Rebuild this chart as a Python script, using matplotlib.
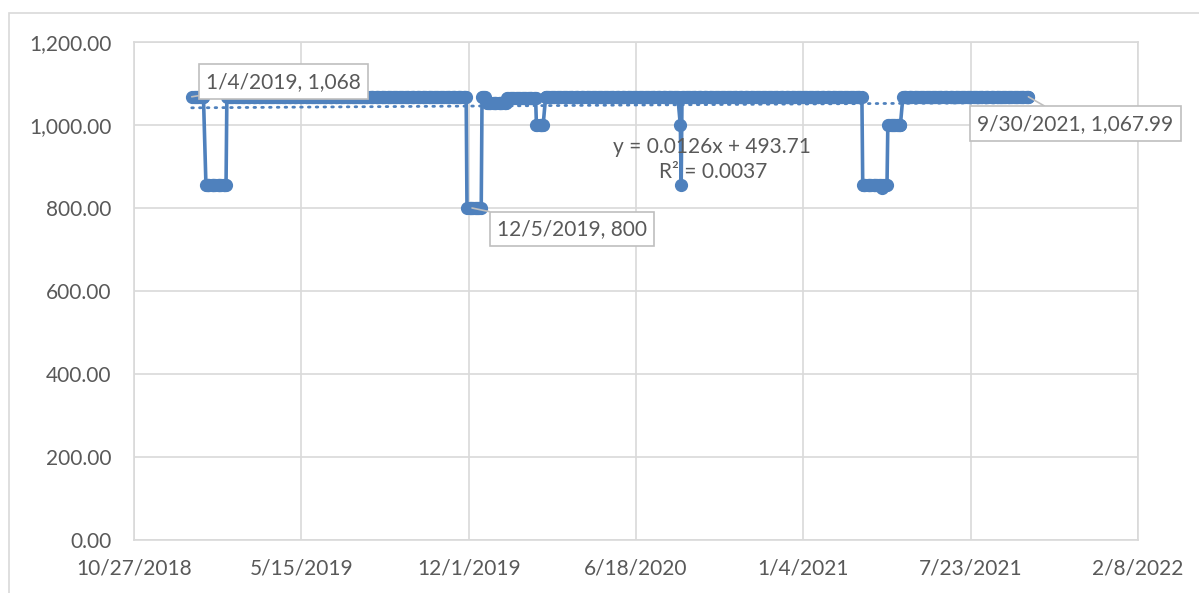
import matplotlib
matplotlib.use("Agg")
import matplotlib.pyplot as plt
import matplotlib.dates as mdates
import matplotlib.patches as mpatches
import numpy as np
import pandas as pd

# step levels (value holds from each start date to the next)
segment_start = ["2019-01-04", "2019-01-21", "2019-02-15", "2019-11-29", "2019-12-17",
                 "2019-12-23", "2020-01-16", "2020-02-20", "2020-03-02", "2020-08-10",
                 "2020-08-11", "2020-08-12", "2021-03-16", "2021-04-08", "2021-04-09",
                 "2021-04-15", "2021-05-03"]
segment_value = [1068, 855, 1068, 800, 1068,
                 1052, 1065, 1000, 1068, 1000,
                 855, 1068, 855, 848, 855,
                 1000, 1068]
last_date = "2021-09-30"
last_value = 1067.99

trend_slope = 0.0126
trend_intercept = 493.71
trend_r2 = 0.0037

x_ticks = ["2018-10-27", "2019-05-15", "2019-12-01", "2020-06-18",
           "2021-01-04", "2021-07-23", "2022-02-08"]
x_tick_labels = ["10/27/2018", "5/15/2019", "12/1/2019", "6/18/2020",
                 "1/4/2021", "7/23/2021", "2/8/2022"]
y_ticks = [0, 200, 400, 600, 800, 1000, 1200]

BLUE = "#4F81BD"
GRID = "#D9D9D9"
TXT = "#595959"

# expand step levels over trading days
dates = pd.bdate_range(segment_start[0], last_date)
starts = pd.to_datetime(segment_start)
idx = np.searchsorted(starts.values, dates.values, side="right") - 1
values = np.array(segment_value, dtype=float)[idx]
values[-1] = last_value

plt.rcParams["font.family"] = ["Lato", "DejaVu Sans"]

fig = plt.figure(figsize=(11.99, 5.93), dpi=100)
W, H = 1199, 593
ax = fig.add_axes([134 / W, (H - 540) / H, 1004 / W, 498 / H])

# outer chart border
fig.patches.append(mpatches.Rectangle((9 / W, -0.1), 1.2, (H - 13) / H + 0.1,
                                      transform=fig.transFigure, fill=False,
                                      edgecolor=GRID, linewidth=1.2))

ax.plot(dates, values, "-o", color=BLUE, lw=2.6, ms=8.5, zorder=3)

# linear trendline in Excel serial units
serial = mdates.date2num(dates) + 25569
ax.plot(dates, trend_slope * serial + trend_intercept, color=BLUE, lw=2,
        linestyle=(0, (0.6, 2.2)), dash_capstyle="round", zorder=4)

xt = pd.to_datetime(x_ticks)
ax.set_xlim(xt[0], xt[-1])
ax.set_ylim(0, 1200)
ax.set_xticks(xt)
ax.set_xticklabels(x_tick_labels)
ax.set_yticks(y_ticks)
ax.set_yticklabels([f"{v:,.2f}" for v in y_ticks])
ax.tick_params(length=0, labelsize=15, labelcolor=TXT)
ax.tick_params(axis="y", pad=16)
ax.tick_params(axis="x", pad=13)
ax.grid(True, color=GRID, lw=1.2, zorder=0)
ax.set_axisbelow(True)
for s in ax.spines.values():
    s.set_color(GRID)
    s.set_linewidth(1.2)

box = dict(boxstyle="square,pad=0.35", fc="white", ec="#BFBFBF", lw=1.2)
arrow = dict(arrowstyle="-", color="#BFBFBF", lw=1.2, shrinkA=0, shrinkB=0)
labels = [(0, f"1/4/2019, {segment_value[0]:,.0f}", (92, 15)),
          (list(dates).index(pd.Timestamp("2019-12-05")), "12/5/2019, 800", (100, -21)),
          (len(dates) - 1, f"9/30/2021, {last_value:,.2f}", (47, -27))]
for i, txt, off in labels:
    ax.annotate(txt, (dates[i], values[i]), xytext=off, textcoords="offset pixels",
                ha="center", va="center", fontsize=15, color=TXT,
                bbox=box, arrowprops=arrow, zorder=6)

fig.text(712 / W, 1 - 147 / H, f"y = {trend_slope}x + {trend_intercept}",
         ha="center", va="center", fontsize=15, color=TXT)
fig.text(713 / W, 1 - 172 / H, f"R² = {trend_r2}",
         ha="center", va="center", fontsize=15, color=TXT)

fig.savefig("out.png", dpi=100)
